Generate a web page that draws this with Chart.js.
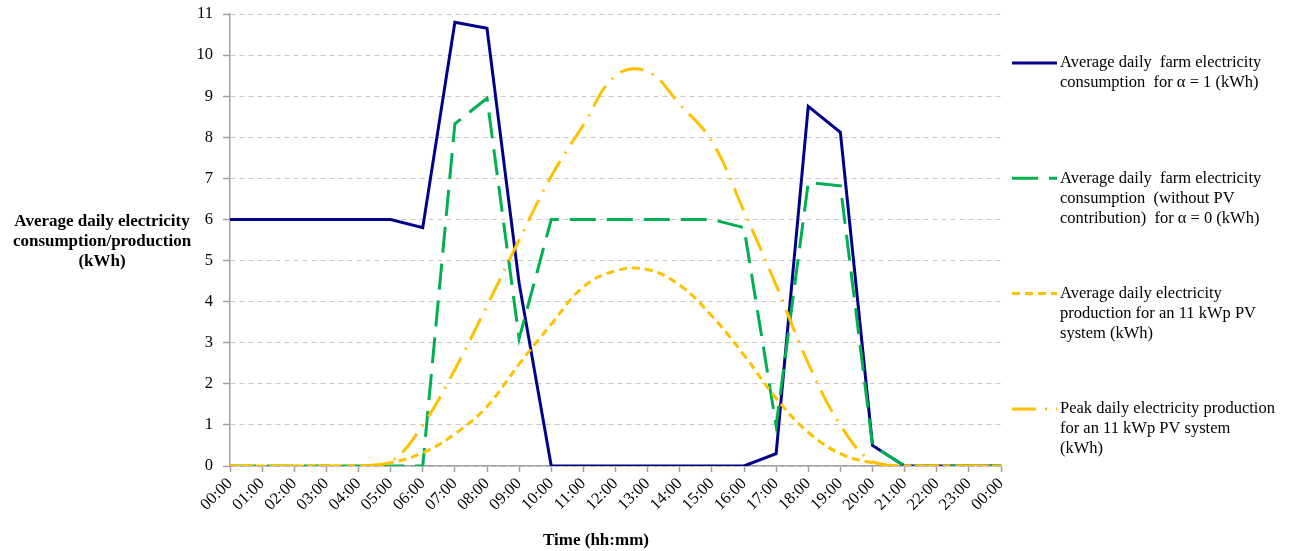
<!DOCTYPE html>
<html>
<head>
<meta charset="utf-8">
<script src="https://cdn.jsdelivr.net/npm/chart.js@4.4.0/dist/chart.umd.min.js"></script>
<style>
  html, body { margin: 0; padding: 0; background: #fff; }
  #wrap { width: 1293px; height: 551px; }
</style>
</head>
<body>
<div id="wrap"><canvas id="chart" width="1293" height="551"></canvas></div>
<script>
const timeLabels = ['00:00', '01:00', '02:00', '03:00', '04:00', '05:00', '06:00', '07:00', '08:00',
  '09:00', '10:00', '11:00', '12:00', '13:00', '14:00', '15:00', '16:00', '17:00', '18:00',
  '19:00', '20:00', '21:00', '22:00', '23:00', '00:00'];

// farm consumption, alpha = 1
const consAlpha1 = [6, 6, 6, 6, 6, 6, 5.8, 10.8, 10.65, 4.45, 0, 0, 0, 0, 0, 0, 0, 0.3, 8.75, 8.12, 0.5, 0, 0, 0, 0];
// farm consumption without PV, alpha = 0
const consAlpha0 = [0, 0, 0, 0, 0, 0, 0, 8.33, 8.95, 3.1, 6, 6, 6, 6, 6, 6, 5.8, 0.98, 6.9, 6.82, 0.5, 0, 0, 0, 0];
// PV production, 11 kWp
const avgProduction = [0, 0, 0, 0, 0, 0.08, 0.32, 0.78, 1.45, 2.48, 3.45, 4.36, 4.75, 4.78, 4.4, 3.65, 2.7, 1.65, 0.82, 0.3, 0.08, 0, 0, 0, 0];
const peakProduction = [0, 0, 0, 0, 0, 0.1, 1.0, 2.35, 3.9, 5.5, 7.05, 8.3, 9.5, 9.6, 8.8, 7.9, 6.2, 4.4, 2.5, 1.0, 0.1, 0, 0, 0, 0];

const legendLines = [
  ['Average daily  farm electricity', 'consumption  for \u03b1 = 1 (kWh)'],
  ['Average daily  farm electricity', 'consumption  (without PV', 'contribution)  for \u03b1 = 0 (kWh)'],
  ['Average daily electricity', 'production for an 11 kWp PV', 'system (kWh)'],
  ['Peak daily electricity production', 'for an 11 kWp PV system', '(kWh)']
];
const yTitleLines = ['Average daily electricity', 'consumption/production', '(kWh)'];
const xTitle = 'Time (hh:mm)';

const serif = '"Liberation Serif", "Times New Roman", serif';

// axis titles + legend on the right, drawn by hand (multi-line, horizontal)
const sideText = {
  id: 'sideText',
  afterDraw(chart) {
    const ctx = chart.ctx;
    ctx.save();
    ctx.fillStyle = '#000';
    ctx.textBaseline = 'middle';
    ctx.font = 'bold 17px ' + serif;
    ctx.textAlign = 'center';
    yTitleLines.forEach((t, i) => ctx.fillText(t, 102, 222 + i * 20));
    ctx.fillText(xTitle, 596, 541);

    const x0 = chart.chartArea.right + 11;
    const len = 45;
    chart.data.datasets.forEach((ds, i) => {
      const y = 63 + i * 115.3;
      ctx.beginPath();
      ctx.strokeStyle = ds.borderColor;
      ctx.lineWidth = ds.borderWidth;
      ctx.setLineDash(ds.borderDash || []);
      ctx.moveTo(x0, y);
      ctx.lineTo(x0 + len, y);
      ctx.stroke();
      ctx.setLineDash([]);
      ctx.font = '16.5px ' + serif;
      ctx.textAlign = 'left';
      legendLines[i].forEach((t, j) => ctx.fillText(t, x0 + len + 3, y + j * 20));
    });
    ctx.restore();
  }
};

new Chart(document.getElementById('chart'), {
  type: 'line',
  data: {
    labels: timeLabels,
    datasets: [
      {
        label: 'alpha1',
        data: consAlpha1,
        borderColor: '#00008b',
        borderWidth: 3,
        tension: 0,
        order: 3
      },
      {
        label: 'alpha0',
        data: consAlpha0,
        borderColor: '#00b050',
        borderWidth: 3,
        borderDash: [26, 11],
        tension: 0,
        order: 2
      },
      {
        label: 'avg',
        data: avgProduction,
        borderColor: '#ffc000',
        borderWidth: 3,
        borderDash: [8, 5],
        tension: 0.4,
        order: 1
      },
      {
        label: 'peak',
        data: peakProduction,
        borderColor: '#ffc000',
        borderWidth: 3,
        borderDash: [24, 9, 2, 9],
        tension: 0.4,
        order: 0
      }
    ]
  },
  options: {
    responsive: false,
    animation: false,
    layout: { padding: { left: 0, right: 292, top: 14, bottom: 0 } },
    elements: { point: { radius: 0 }, line: { borderCapStyle: 'butt' } },
    plugins: { legend: { display: false }, tooltip: { enabled: false } },
    scales: {
      x: {
        offset: false,
        grid: { drawOnChartArea: false, tickLength: 6, tickColor: '#a0a0a0', tickWidth: 1.5 },
        border: { color: '#a0a0a0', width: 1.5 },
        ticks: { autoSkip: false, minRotation: 45, maxRotation: 45, color: '#000', font: { family: serif, size: 16.5 }, padding: 2 },
        afterFit(scale) { scale.height = 85; scale.paddingTop = 0; }
      },
      y: {
        min: 0,
        max: 11,
        ticks: { stepSize: 1, color: '#000', font: { family: serif, size: 16.5 }, padding: 10 },
        grid: { color: '#c8c8c8', lineWidth: 1, tickLength: 7, tickColor: '#a0a0a0', tickWidth: 1.5, tickBorderDash: [] },
        border: { color: '#a0a0a0', width: 1.5, dash: [5, 4] },
        afterFit(scale) { scale.width = 230; scale.paddingTop = 0; scale.paddingBottom = 0; }
      }
    }
  },
  plugins: [sideText]
});
</script>
</body>
</html>
